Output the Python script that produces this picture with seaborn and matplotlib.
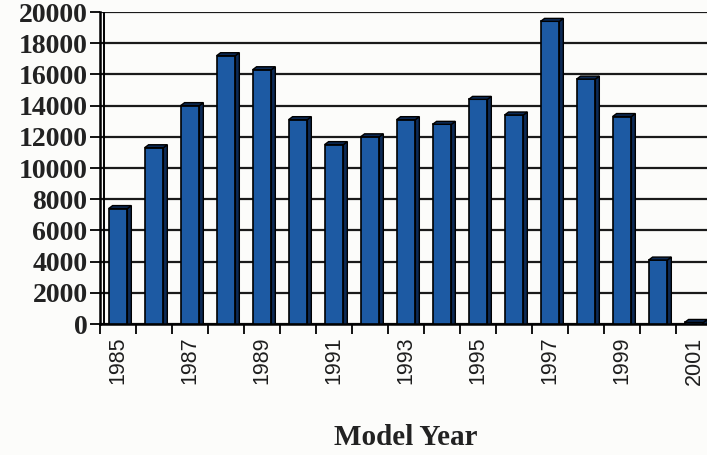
import matplotlib
matplotlib.use("Agg")
import matplotlib.pyplot as plt
from matplotlib.patches import Polygon
from matplotlib.ticker import FixedLocator
import seaborn as sns
import pandas as pd

# Vehicles by model year
years = ["1985", "1986", "1987", "1988", "1989", "1990", "1991", "1992", "1993",
         "1994", "1995", "1996", "1997", "1998", "1999", "2000", "2001"]
counts = [7400, 11300, 14000, 17200, 16300, 13100, 11500, 12000, 13100,
          12800, 14400, 13400, 19400, 15700, 13300, 4100, 100]
y_ticks = [0, 2000, 4000, 6000, 8000, 10000, 12000, 14000, 16000, 18000, 20000]

df = pd.DataFrame({"year": years, "count": counts})

sns.set_theme(style="white")
plt.rcParams["font.family"] = ["Liberation Serif", "DejaVu Serif"]

W, H = 707, 455
fig = plt.figure(figsize=(W / 100, H / 100), dpi=100)
fig.patch.set_facecolor("#fcfcfa")
ax = fig.add_axes([100 / W, 1 - 324 / H, 612 / W, 312 / H])
ax.set_facecolor("#fcfcfa")

front = "#1d5aa3"
side = "#0c2a55"
sns.barplot(data=df, x="year", y="count", color=front, width=0.52,
            edgecolor="black", linewidth=1.2, saturation=1, ax=ax, zorder=3)

ax.set_xlim(-0.5, len(years) - 0.5)
ax.set_ylim(0, 20000)

# depth of the extruded bars, expressed in data units
dx = 0.11
dy = 190
for p in list(ax.patches):
    x0, w, h = p.get_x(), p.get_width(), p.get_height()
    ax.add_patch(Polygon([(x0 + w, 0), (x0 + w + dx, 0), (x0 + w + dx, h + dy), (x0 + w, h)],
                         closed=True, facecolor=side, edgecolor="black", linewidth=1.0, zorder=3))
    ax.add_patch(Polygon([(x0, h), (x0 + dx, h + dy), (x0 + w + dx, h + dy), (x0 + w, h)],
                         closed=True, facecolor=side, edgecolor="black", linewidth=1.0, zorder=3))

# horizontal grid
ax.set_yticks(y_ticks)
ax.yaxis.grid(True, color="#1a1a1a", linewidth=1.6, zorder=1)
ax.set_axisbelow(True)
ax.set_yticklabels([str(v) for v in y_ticks], fontsize=20, fontweight="bold", color="#222222")
ax.tick_params(axis="y", direction="out", length=7, width=1.3, color="black", pad=2, left=True)

# year labels on every other bar, tick marks between categories
ax.set_xticks(range(0, len(years), 2))
ax.set_xticklabels(years[::2], rotation=90, fontsize=15.5,
                   family=["Liberation Sans", "DejaVu Sans"], color="#1e1e1e")
ax.tick_params(axis="x", which="major", length=0, pad=9)
ax.xaxis.set_minor_locator(FixedLocator([i - 0.5 for i in range(len(years) + 1)]))
ax.tick_params(axis="x", which="minor", direction="out", length=7, width=1.3,
               color="black", bottom=True)

ax.set_xlabel("Model Year", fontsize=21, fontweight="bold", color="#222222", labelpad=28)
ax.set_ylabel("")

for s in ["top", "right"]:
    ax.spines[s].set_visible(False)
ax.spines["left"].set_color("black")
ax.spines["left"].set_linewidth(1.8)
ax.spines["bottom"].set_color("black")
ax.spines["bottom"].set_linewidth(1.8)
# back wall edge just inside the value axis
ax.axvline(-0.5 + 0.12, color="black", linewidth=1.4, zorder=2)

fig.savefig("out.png", dpi=100, facecolor=fig.get_facecolor())
